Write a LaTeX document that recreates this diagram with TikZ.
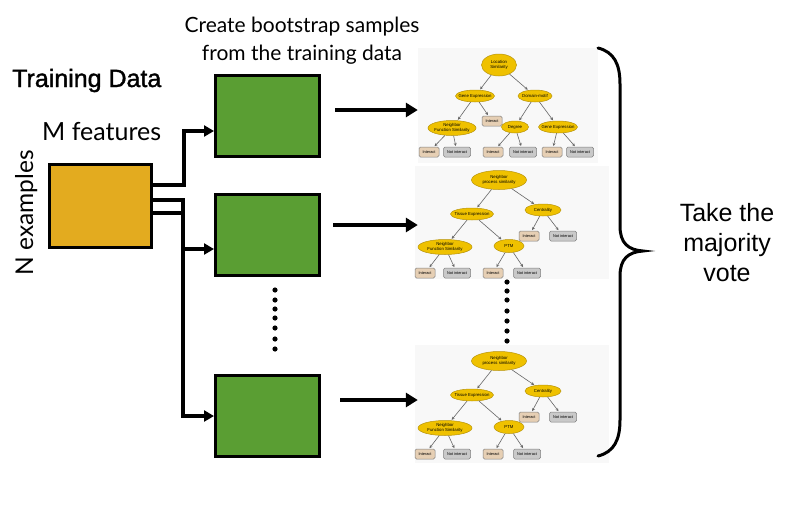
\documentclass[tikz,border=0pt]{standalone}
\usepackage{fontspec}
\setmainfont{Liberation Sans}
\newfontfamily\lightfont{Lato}
\newfontfamily\medfont{Liberation Sans}[BoldFont=Liberation Sans, BoldFeatures={FakeBold=1.4}]
\usetikzlibrary{shapes.geometric,arrows.meta,calc}
\definecolor{dataorange}{HTML}{E3AB1F}
\definecolor{bootgreen}{HTML}{5A9E33}
\definecolor{treegold}{HTML}{EFC100}
\definecolor{treegoldline}{HTML}{B8940A}
\definecolor{leaftan}{HTML}{E6CFB4}
\definecolor{leafgray}{HTML}{C9C9C9}
\definecolor{treebg}{HTML}{F8F8F8}
\tikzset{
  tinyfont/.style={font=\fontsize{4.3}{4.6}\selectfont},
  leaffont/.style={font=\fontsize{3.9}{4.2}\selectfont},
  dec/.style={ellipse, draw=treegoldline, line width=0.5pt, fill=treegold, inner xsep=-6pt, inner ysep=-3pt, align=center, tinyfont},
  leafI/.style={rectangle, rounded corners=1.5pt, draw=gray, line width=0.5pt, fill=leaftan, minimum width=20pt, minimum height=10pt, inner sep=0pt, leaffont},
  leafN/.style={leafI, fill=leafgray, minimum width=27pt},
  tedge/.style={draw=gray!80!black, line width=0.6pt, -{Stealth[length=3pt,width=3pt]}, shorten >=0.8pt},
  treeback/.style={rectangle, fill=treebg, inner sep=0pt},
  bootbox/.style={draw, line width=3pt, fill=bootgreen, minimum width=104pt, minimum height=81pt, inner sep=0pt},
  databox/.style={draw, line width=3pt, fill=dataorange, minimum width=102pt, minimum height=83pt, inner sep=0pt},
  bigarrow/.style={line width=4pt, -{Triangle[length=12pt,width=14pt]}},
  elbowarrow/.style={line width=4pt, -{Triangle[length=10pt,width=11pt]}},
  lighttext/.style={font=\lightfont\fontsize{21}{28}\selectfont, inner sep=0pt},
  bigtext/.style={font=\fontsize{25}{30}\selectfont, inner sep=0pt},
  dotmark/.style={fill=black}
}
\newcommand\drawtreeB{%
  \node[dec, minimum width=55pt, minimum height=19pt] (r) at (499,180) {Neighbor\\process similarity};
  \node[dec, minimum width=43pt, minimum height=12pt] (a) at (472,214) {Tissue Expression};
  \node[dec, minimum width=36pt, minimum height=12pt] (b) at (543,210) {Centrality};
  \node[leafI] (b1) at (529,236) {Interact};
  \node[leafN] (b2) at (563,236) {Not interact};
  \node[dec, minimum width=54pt, minimum height=15pt] (c) at (445,247) {Neighbor\\Function Similarity};
  \node[dec, minimum width=30pt, minimum height=13pt] (d) at (509,246) {PTM};
  \node[leafI] (c1) at (425,273) {Interact};
  \node[leafN] (c2) at (457,273) {Not interact};
  \node[leafI] (d1) at (493,273) {Interact};
  \node[leafN] (d2) at (527,273) {Not interact};
  \draw[tedge] (r) -- (a);
  \draw[tedge] (r) -- (b);
  \draw[tedge] (b) -- (b1);
  \draw[tedge] (b) -- (b2);
  \draw[tedge] (a) -- (c);
  \draw[tedge] (a) -- (d);
  \draw[tedge] (c) -- (c1);
  \draw[tedge] (c) -- (c2);
  \draw[tedge] (d) -- (d1);
  \draw[tedge] (d) -- (d2);
}
\begin{document}
\begin{tikzpicture}[x=1pt,y=-1pt]
\useasboundingbox[fill=white] (0,0) rectangle (792,514);

% tree backgrounds
\node[treeback, minimum width=180pt, minimum height=115pt] (t1) at (508,105.5) {};
\node[treeback, minimum width=194pt, minimum height=113pt] (t2) at (512,222.5) {};
\node[treeback, minimum width=194pt, minimum height=118pt] (t3) at (512,404) {};

% tree 1
\begin{scope}[name prefix=ta-]
  \node[dec, minimum width=35pt, minimum height=22pt] (r) at (499,65) {Location\\Similarity};
  \node[dec, minimum width=39pt, minimum height=12pt] (a) at (475,96) {Gene Expression};
  \node[dec, minimum width=34pt, minimum height=12pt] (b) at (535,96) {Domain-motif};
  \node[leafI] (ai) at (492,121) {Interact};
  \node[dec, minimum width=48pt, minimum height=15pt] (c) at (452,128) {Neighbor\\Function Similarity};
  \node[dec, minimum width=27pt, minimum height=12pt] (d) at (515,127) {Degree};
  \node[dec, minimum width=39pt, minimum height=12pt] (e) at (558,127) {Gene Expression};
  \node[leafI] (c1) at (429,152) {Interact};
  \node[leafN] (c2) at (457,152) {Not interact};
  \node[leafI] (d1) at (493,152) {Interact};
  \node[leafN] (d2) at (523,152) {Not interact};
  \node[leafI] (e1) at (552,152) {Interact};
  \node[leafN] (e2) at (580,152) {Not interact};
  \draw[tedge] (r) -- (a);
  \draw[tedge] (r) -- (b);
  \draw[tedge] (a) -- (c);
  \draw[tedge] (a) -- (ai);
  \draw[tedge] (b) -- (d);
  \draw[tedge] (b) -- (e);
  \draw[tedge] (c) -- (c1);
  \draw[tedge] (c) -- (c2);
  \draw[tedge] (d) -- (d1);
  \draw[tedge] (d) -- (d2);
  \draw[tedge] (e) -- (e1);
  \draw[tedge] (e) -- (e2);
\end{scope}

% tree 2 and 3
\begin{scope}[name prefix=tb-]
  \drawtreeB
\end{scope}
\begin{scope}[name prefix=tc-, shift={(0,181)}]
  \drawtreeB
\end{scope}

% texts
\node[lighttext, anchor=base] (cap1) at (302,32) {Create bootstrap samples};
\node[lighttext, anchor=base] (cap2) at (302,60) {from the training data};
\node[bigtext, font=\medfont\bfseries\fontsize{25}{30}\selectfont, anchor=base west] (tdata) at (12,87) {Training Data};
\node[lighttext, font=\lightfont\fontsize{25}{28}\selectfont, anchor=base west] (mfeat) at (42,140) {M features};
\node[lighttext, font=\lightfont\fontsize{24.5}{28}\selectfont, rotate=90, anchor=base] (nex) at (33,213) {N examples};
\node[bigtext, anchor=base] (vote1) at (727,221) {Take the};
\node[bigtext, anchor=base] (vote2) at (727,251) {majority};
\node[bigtext, anchor=base] (vote3) at (727,281) {vote};

% boxes
\node[databox] (data) at (100.5,206) {};
\node[bootbox] (b1) at (267.5,116) {};
\node[bootbox] (b2) at (267.5,235) {};
\node[bootbox] (b3) at (267.5,416) {};

% elbow connectors
\draw[elbowarrow] ($(data.east)+(0,21pt)$) -- ++(31pt,0) |- ($(b1.west)+(0,-15pt)$);
\draw[elbowarrow] ($(data.east)+(0,6pt)$) -- ++(30pt,0) |- ($(b2.west)+(0,-14pt)$);
\draw[elbowarrow] ($(data.east)+(0,-7pt)$) -- ++(30pt,0) |- (b3.west);

% arrows to trees
\draw[bigarrow] ($(b1.east)+(14pt,6pt)$) -- ($(b1.east -| t1.west)+(0,6pt)$);
\draw[bigarrow] ($(b2.east)+(12pt,10pt)$) -- ($(b2.east -| t1.west)+(0,10pt)$);
\draw[bigarrow] ($(b3.east)+(19pt,16pt)$) -- ($(b3.east -| t1.west)+(0,16pt)$);

% dots
\foreach \yy in {290,300,309,318,328,339,349} \fill[dotmark] (275,\yy) circle (2.6pt);
\foreach \yy in {282,291,300,311,321,331,341} \fill[dotmark] (507,\yy) circle (2.6pt);

% brace
\draw[line width=3pt, line cap=round] (598,48) .. controls (614,52) and (620,64) .. (620,84)
  -- (620,226) .. controls (620,243) and (628,250) .. (643,251)
  .. controls (628,252) and (620,259) .. (620,276)
  -- (620,420) .. controls (620,440) and (614,452) .. (598,456);
\end{tikzpicture}
\end{document}
